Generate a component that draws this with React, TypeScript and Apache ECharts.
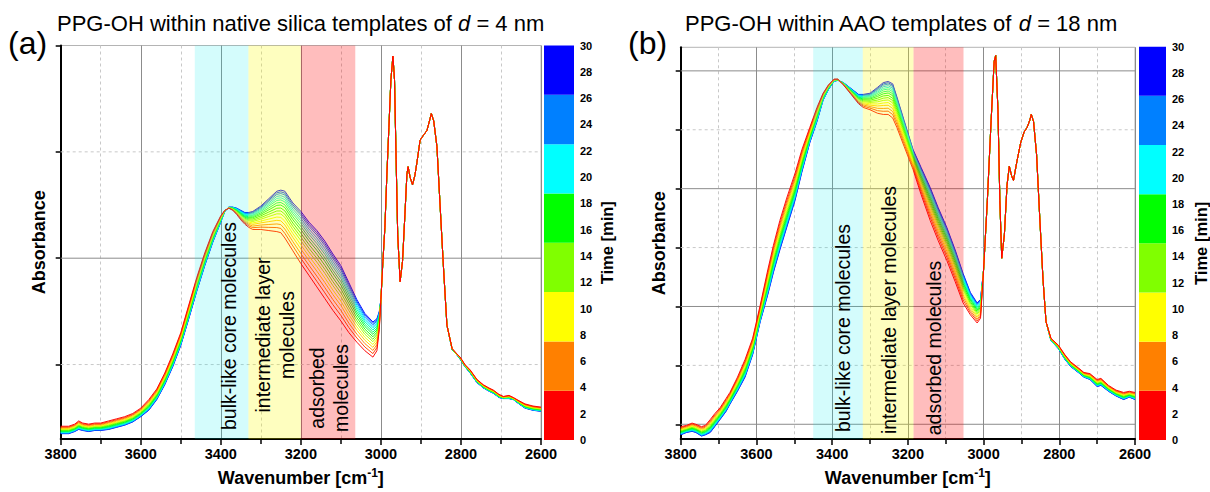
import React, { useEffect, useRef } from "react";
import * as echarts from "echarts";

const FONT = '"Liberation Sans", Arial, Helvetica, sans-serif';

const times = [0, 2, 4, 6, 8, 10, 12, 14, 16, 18, 20, 22, 24, 26, 28, 30];
const growth = [0, 0.1, 0.19, 0.28, 0.36, 0.44, 0.51, 0.58, 0.65, 0.71, 0.77, 0.82, 0.87, 0.92, 0.96, 1];

// ---------- panel (a): native silica, d = 4 nm ----------
const wnA = [
  3800, 3780, 3765, 3755, 3745, 3730, 3715, 3700, 3680, 3660,
  3640, 3620, 3600, 3580, 3560, 3540, 3520, 3500, 3480, 3460,
  3440, 3420, 3400, 3390, 3380, 3370, 3360, 3350, 3340, 3330,
  3320, 3300, 3280, 3260, 3250, 3240, 3220, 3200, 3180, 3160,
  3140, 3120, 3100, 3080, 3060, 3040, 3020, 3010, 3004, 3000,
  2995, 2990, 2985, 2980, 2975, 2970, 2966, 2962, 2958, 2952,
  2946, 2940, 2935, 2932, 2927, 2921, 2915, 2910, 2902, 2893,
  2885, 2878, 2874, 2868, 2860, 2852, 2843, 2835, 2822, 2810,
  2802, 2790, 2777, 2760, 2744, 2730, 2719, 2705, 2694, 2680,
  2669, 2655, 2640, 2620, 2600,
];
const firstA = [
  0.442, 0.442, 0.444, 0.447, 0.445, 0.444, 0.445, 0.445, 0.447, 0.449,
  0.451, 0.454, 0.459, 0.467, 0.477, 0.492, 0.51, 0.53, 0.556, 0.582,
  0.605, 0.625, 0.64, 0.645, 0.647, 0.645, 0.641, 0.636, 0.632, 0.629,
  0.627, 0.627, 0.626, 0.625, 0.624, 0.619, 0.607, 0.595, 0.584, 0.573,
  0.562, 0.551, 0.541, 0.53, 0.521, 0.513, 0.507, 0.513, 0.533, 0.561,
  0.597, 0.629, 0.679, 0.723, 0.768, 0.79, 0.768, 0.693, 0.622, 0.578,
  0.597, 0.641, 0.679, 0.686, 0.676, 0.669, 0.678, 0.69, 0.711, 0.716,
  0.72, 0.73, 0.736, 0.729, 0.705, 0.649, 0.587, 0.537, 0.515, 0.51,
  0.507, 0.5, 0.495, 0.486, 0.481, 0.478, 0.476, 0.472, 0.47, 0.471,
  0.469, 0.466, 0.463, 0.461, 0.46,
];
const lastA = [
  0.435, 0.435, 0.437, 0.439, 0.438, 0.437, 0.438, 0.438, 0.439, 0.441,
  0.443, 0.446, 0.451, 0.457, 0.467, 0.481, 0.498, 0.518, 0.543, 0.569,
  0.593, 0.615, 0.634, 0.644, 0.648, 0.648, 0.647, 0.645, 0.643, 0.643,
  0.644, 0.649, 0.656, 0.663, 0.664, 0.663, 0.652, 0.644, 0.634, 0.626,
  0.616, 0.604, 0.593, 0.577, 0.561, 0.548, 0.54, 0.543, 0.55, 0.561,
  0.597, 0.629, 0.679, 0.723, 0.768, 0.79, 0.768, 0.693, 0.622, 0.578,
  0.597, 0.641, 0.679, 0.686, 0.676, 0.669, 0.678, 0.69, 0.711, 0.716,
  0.72, 0.73, 0.736, 0.729, 0.705, 0.649, 0.587, 0.537, 0.514, 0.509,
  0.505, 0.498, 0.492, 0.483, 0.478, 0.475, 0.473, 0.469, 0.468, 0.468,
  0.467, 0.463, 0.459, 0.457, 0.456,
];

// ---------- panel (b): AAO, d = 18 nm ----------
const wnB = [
  3800, 3785, 3770, 3760, 3745, 3735, 3722, 3710, 3696, 3680,
  3670, 3650, 3630, 3610, 3590, 3570, 3555, 3538, 3520, 3498,
  3480, 3459, 3440, 3424, 3410, 3395, 3385, 3370, 3350, 3330,
  3318, 3300, 3280, 3265, 3252, 3240, 3229, 3210, 3186, 3165,
  3141, 3120, 3097, 3075, 3054, 3035, 3017, 3008, 3000, 2990,
  2980, 2972, 2968, 2962, 2957, 2952, 2945, 2938, 2932, 2926,
  2921, 2912, 2902, 2893, 2885, 2878, 2874, 2868, 2860, 2852,
  2843, 2835, 2822, 2802, 2785, 2770, 2750, 2735, 2719, 2700,
  2690, 2670, 2650, 2630, 2615, 2600,
];
const firstB = [
  0.098, 0.099, 0.101, 0.1, 0.098, 0.099, 0.104, 0.109, 0.114, 0.122,
  0.127, 0.14, 0.155, 0.173, 0.201, 0.231, 0.252, 0.273, 0.292, 0.313,
  0.333, 0.352, 0.369, 0.381, 0.388, 0.393, 0.393, 0.388, 0.38, 0.372,
  0.369, 0.367, 0.364, 0.363, 0.363, 0.36, 0.352, 0.336, 0.316, 0.295,
  0.273, 0.256, 0.239, 0.221, 0.203, 0.193, 0.186, 0.19, 0.231, 0.29,
  0.358, 0.408, 0.413, 0.367, 0.29, 0.241, 0.261, 0.303, 0.319, 0.311,
  0.307, 0.323, 0.339, 0.348, 0.352, 0.358, 0.363, 0.357, 0.329, 0.278,
  0.223, 0.187, 0.173, 0.167, 0.159, 0.153, 0.148, 0.144, 0.143, 0.138,
  0.139, 0.133, 0.129, 0.127, 0.128, 0.127,
];
const lastB = [
  0.091, 0.093, 0.094, 0.093, 0.09, 0.091, 0.093, 0.098, 0.104, 0.111,
  0.117, 0.128, 0.14, 0.159, 0.187, 0.21, 0.229, 0.248, 0.267, 0.29,
  0.314, 0.339, 0.357, 0.375, 0.384, 0.391, 0.392, 0.39, 0.385, 0.38,
  0.38, 0.381, 0.386, 0.39, 0.391, 0.389, 0.378, 0.358, 0.333, 0.318,
  0.301, 0.284, 0.267, 0.248, 0.228, 0.212, 0.203, 0.206, 0.231, 0.29,
  0.358, 0.408, 0.413, 0.367, 0.29, 0.241, 0.261, 0.303, 0.319, 0.311,
  0.307, 0.323, 0.339, 0.348, 0.352, 0.358, 0.363, 0.357, 0.329, 0.278,
  0.223, 0.187, 0.171, 0.164, 0.155, 0.149, 0.144, 0.14, 0.138, 0.132,
  0.133, 0.128, 0.124, 0.121, 0.123, 0.121,
];

// shaded wavenumber regions [from, to]
const bandsA = [[3465, 3331], [3331, 3200], [3200, 3064]];
const bandsB = [[3450, 3319], [3319, 3185], [3185, 3053]];
const bandLabelsA = ["bulk-like core molecules", "intermediate layer\nmolecules", "adsorbed\nmolecules"];
const bandLabelsB = ["bulk-like core molecules", "intermediate layer molecules", "adsorbed molecules"];

// y ticks (no labels in the original) and horizontal grid lines [value, major?]
const yTicksA = [0.5, 0.6, 0.7, 0.8];
const hGridA = [[0.5, 0], [0.6, 1], [0.7, 0]];
const yTicksB = [0.1, 0.15, 0.2, 0.25, 0.3, 0.35, 0.4];
const hGridB = [[0.1, 1], [0.15, 0], [0.2, 1], [0.25, 0], [0.3, 1], [0.35, 0], [0.4, 1]];

// colour bar blocks (time in min)
const colorbarEdges = [0, 3.75, 7.5, 11.25, 15, 18.75, 22.5, 26.25, 30];
const colorbarColors = ["#ff0000", "#ff8000", "#ffff00", "#80ff00", "#00ff00", "#00ffff", "#0080ff", "#0000ff"];

const bandColors = ["rgba(0,235,235,0.17)", "rgba(250,250,0,0.25)", "rgba(255,0,0,0.26)"];

function hueColor(h: number) {
  const f = (n: number) => {
    const k = (n + h / 60) % 6;
    const v = 1 - Math.max(0, Math.min(k, 4 - k, 1));
    return Math.round(v * 255);
  };
  const hex = (c: number) => c.toString(16).padStart(2, "0");
  return "#" + hex(f(5)) + hex(f(3)) + hex(f(1));
}

function mix(a: number[], b: number[], f: number) {
  return a.map((v, i) => +(v + (b[i] - v) * f).toFixed(4));
}

function spectra(wn: number[], first: number[], last: number[], ax: number) {
  const out: any[] = [];
  for (let k = times.length - 1; k >= 0; k--) {
    const vals = mix(first, last, growth[k]);
    out.push({
      type: "line",
      xAxisIndex: ax,
      yAxisIndex: ax,
      data: wn.map((w, i) => [w, vals[i]]),
      showSymbol: false,
      symbol: "none",
      silent: true,
      z: 3,
      lineStyle: { width: 1, color: hueColor((240 * times[k]) / 30), opacity: 0.95 },
      emphasis: { disabled: true },
    });
  }
  return out;
}

function hGridSeries(data: number[][], ax: number) {
  return {
    type: "custom",
    xAxisIndex: ax,
    yAxisIndex: ax,
    data,
    z: 1,
    silent: true,
    renderItem: (params: any, api: any) => {
      const cs = params.coordSys;
      const y = api.coord([3000, api.value(0)])[1];
      const major = api.value(1) === 1;
      return {
        type: "line",
        shape: { x1: cs.x, y1: y, x2: cs.x + cs.width, y2: y },
        style: { stroke: major ? "#8c8c8c" : "#c8c8c8", lineWidth: 1, lineDash: major ? null : [3, 3] },
      };
    },
  };
}

function bandSeries(data: number[][], ax: number) {
  return {
    type: "custom",
    xAxisIndex: ax,
    yAxisIndex: ax,
    data,
    z: 5,
    silent: true,
    renderItem: (params: any, api: any) => {
      const cs = params.coordSys;
      const xa = api.coord([api.value(0), 0])[0];
      const xb = api.coord([api.value(1), 0])[0];
      return {
        type: "rect",
        shape: { x: Math.min(xa, xb), y: cs.y, width: Math.abs(xb - xa), height: cs.height },
        style: { fill: bandColors[params.dataIndex] },
      };
    },
  };
}

function colorbarSeries(ax: number, stack: string) {
  return colorbarColors.map((c, i) => ({
    type: "bar",
    xAxisIndex: ax,
    yAxisIndex: ax,
    stack,
    barWidth: "100%",
    data: [colorbarEdges[i + 1] - colorbarEdges[i]],
    itemStyle: { color: c },
    silent: true,
  }));
}

const xValueAxis = (gridIndex: number) => ({
  type: "value",
  gridIndex,
  min: 2600,
  max: 3800,
  interval: 200,
  inverse: true,
  axisLine: { show: true, onZero: false, lineStyle: { color: "#000", width: 2 } },
  axisTick: { show: true, length: 6, lineStyle: { color: "#000", width: 1.5 } },
  minorTick: { show: true, splitNumber: 2, length: 5, lineStyle: { color: "#000", width: 1.5 } },
  axisLabel: {
    color: "#000", fontWeight: "bold", fontSize: 14.5, fontFamily: FONT, margin: 7,
    formatter: (v: number) => String(v),
  },
  splitLine: { show: true, lineStyle: { color: "#8c8c8c", width: 1 } },
  minorSplitLine: { show: true, lineStyle: { color: "#c8c8c8", width: 1, type: [3, 3] } },
  name: "{n|Wavenumber [cm}{s|-1}{n|]}",
  nameLocation: "middle",
  nameGap: 28,
  nameTextStyle: {
    fontFamily: FONT,
    rich: {
      n: { fontSize: 18, fontWeight: "bold", color: "#000", fontFamily: FONT, lineHeight: 22 },
      s: { fontSize: 12, fontWeight: "bold", color: "#000", fontFamily: FONT, lineHeight: 12, verticalAlign: "top" },
    },
  },
});

const yValueAxis = (gridIndex: number, min: number, max: number, ticks: number[]) => ({
  type: "value",
  gridIndex,
  min,
  max,
  axisLine: { show: true, onZero: false, lineStyle: { color: "#000", width: 2 } },
  axisTick: { show: true, customValues: ticks, length: 5, lineStyle: { color: "#000", width: 1.5 } },
  axisLabel: { show: false },
  splitLine: { show: false },
  name: "Absorbance",
  nameLocation: "middle",
  nameGap: 13,
  nameTextStyle: { fontSize: 18, fontWeight: "bold", color: "#000", fontFamily: FONT },
});

const cbXAxis = (gridIndex: number) => ({ type: "category", gridIndex, data: ["t"], show: false });
const cbYAxis = (gridIndex: number, gap: number) => ({
  type: "value",
  gridIndex,
  min: 0,
  max: 30,
  interval: 2,
  position: "right",
  axisLine: { show: false },
  axisTick: { show: false },
  splitLine: { show: false },
  axisLabel: { color: "#000", fontWeight: "bold", fontSize: 11, fontFamily: FONT, margin: 6 },
  name: "Time [min]",
  nameLocation: "middle",
  nameRotate: 90,
  nameGap: gap,
  nameTextStyle: { fontSize: 16.5, fontWeight: "bold", color: "#000", fontFamily: FONT },
});

function bandText(text: string, x: number, y: number) {
  return {
    type: "text",
    x,
    y,
    rotation: Math.PI / 2,
    z: 100,
    silent: true,
    style: {
      text,
      fontSize: 19.5,
      fontFamily: FONT,
      fill: "#000",
      align: "center",
      verticalAlign: "middle",
      lineHeight: 24,
    },
  };
}

const titleRich = (fs: number) => ({
  n: { fontSize: fs, fontFamily: FONT, color: "#000", fontWeight: "normal" },
  i: { fontSize: fs, fontFamily: FONT, color: "#000", fontWeight: "normal", fontStyle: "italic" },
});

export default function App() {
  const ref = useRef<HTMLDivElement>(null);
  useEffect(() => {
    if (!ref.current) return;
    const chart = echarts.init(ref.current, undefined, { renderer: "svg" });
    const option: any = {
      animation: false,
      backgroundColor: "#fff",
      title: [
        { text: "(a)", left: 8, top: 27, padding: 0, textStyle: { fontSize: 32, fontWeight: "normal", color: "#000", fontFamily: FONT } },
        {
          text: "{n|PPG-OH within native silica templates of }{i|d}{n| = 4 nm}",
          left: 57, top: 12, padding: 0,
          textStyle: { fontSize: 22, fontWeight: "normal", fontFamily: FONT, rich: titleRich(22) },
        },
        { text: "(b)", left: 628, top: 27, padding: 0, textStyle: { fontSize: 32, fontWeight: "normal", color: "#000", fontFamily: FONT } },
        {
          text: "{n|PPG-OH within AAO templates of }{i|d}{n| = 18 nm}",
          left: 685, top: 12, padding: 0,
          textStyle: { fontSize: 22, fontWeight: "normal", fontFamily: FONT, rich: titleRich(22) },
        },
      ],
      grid: [
        { left: 60.7, top: 45.5, width: 480.3, height: 394.5, show: true, borderColor: "#b4b4b4", borderWidth: 1, backgroundColor: "transparent" },
        { left: 544, top: 45.5, width: 30, height: 394.5 },
        { left: 680.7, top: 47.3, width: 454.3, height: 391.7, show: true, borderColor: "#b4b4b4", borderWidth: 1, backgroundColor: "transparent" },
        { left: 1139, top: 46.7, width: 28, height: 393.3 },
      ],
      xAxis: [xValueAxis(0), cbXAxis(1), xValueAxis(2), cbXAxis(3)],
      yAxis: [
        yValueAxis(0, 0.43, 0.8, yTicksA),
        cbYAxis(1, 24),
        yValueAxis(2, 0.0875, 0.42, yTicksB),
        cbYAxis(3, 26),
      ],
      series: [
        hGridSeries(hGridA, 0),
        ...spectra(wnA, firstA, lastA, 0),
        bandSeries(bandsA, 0),
        ...colorbarSeries(1, "cbA"),
        hGridSeries(hGridB, 2),
        ...spectra(wnB, firstB, lastB, 2),
        bandSeries(bandsB, 2),
        ...colorbarSeries(3, "cbB"),
      ],
      graphic: [
        bandText(bandLabelsA[0], 229, 326),
        bandText(bandLabelsA[1], 275, 335),
        bandText(bandLabelsA[2], 329, 388),
        bandText(bandLabelsB[0], 843, 328),
        bandText(bandLabelsB[1], 889, 310),
        bandText(bandLabelsB[2], 934, 348),
      ],
    };
    chart.setOption(option);
    return () => chart.dispose();
  }, []);
  return (
    <div
      ref={ref}
      style={{ position: "fixed", left: 0, top: 0, width: 1210, height: 492, background: "#fff" }}
    />
  );
}
